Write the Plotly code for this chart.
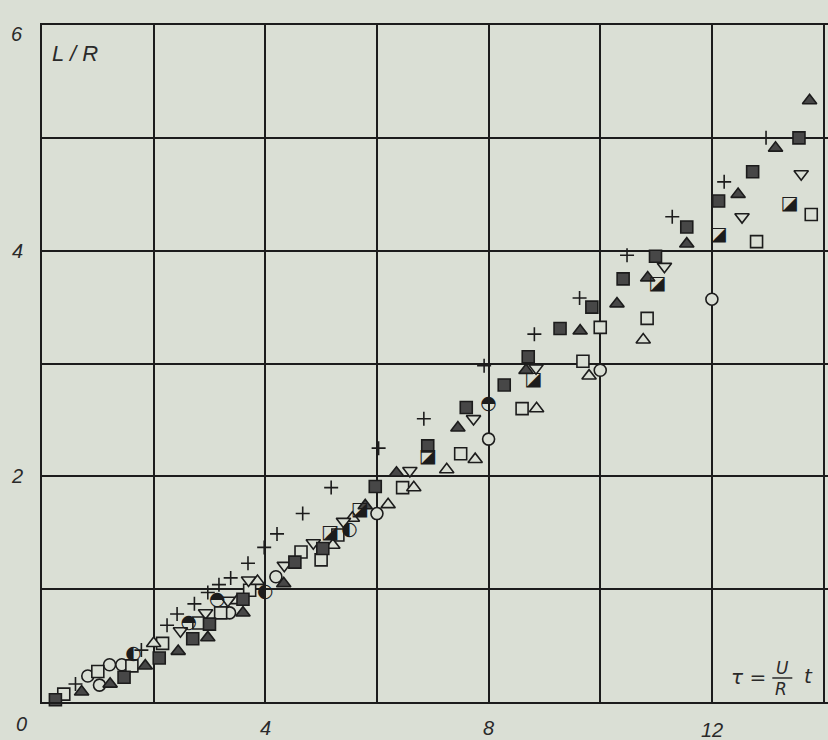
import plotly.graph_objects as go

BG = "#dadfd5"
INK = "#1c1c1c"
FILL = "#474747"

# ---- data ----
plus_x = [0.60, 1.78, 2.24, 2.42, 2.73, 2.97, 3.17, 3.38, 3.69, 3.98, 4.21, 4.67, 5.18, 6.03, 6.84, 7.92, 8.82, 9.63, 10.48, 11.29, 12.22, 12.97]
plus_y = [0.16, 0.46, 0.68, 0.78, 0.87, 0.97, 1.04, 1.10, 1.23, 1.37, 1.49, 1.67, 1.90, 2.25, 2.51, 2.98, 3.26, 3.58, 3.96, 4.30, 4.61, 5.00]

sqf_x = [0.24, 1.47, 2.10, 2.70, 3.00, 3.60, 4.53, 5.03, 5.97, 6.91, 7.60, 8.28, 8.71, 9.28, 9.85, 10.41, 10.99, 11.55, 12.12, 12.73, 13.56]
sqf_y = [0.02, 0.22, 0.39, 0.56, 0.69, 0.91, 1.24, 1.36, 1.91, 2.27, 2.61, 2.81, 3.06, 3.31, 3.50, 3.75, 3.95, 4.21, 4.44, 4.70, 5.00]

trif_x = [0.71, 1.22, 1.85, 2.44, 2.97, 3.60, 4.33, 5.79, 6.35, 7.45, 8.67, 9.64, 10.30, 10.85, 11.55, 12.47, 13.14, 13.75]
trif_y = [0.09, 0.16, 0.32, 0.45, 0.57, 0.79, 1.05, 1.74, 2.03, 2.43, 2.94, 3.29, 3.53, 3.76, 4.06, 4.50, 4.91, 5.33]

circ_x = [0.82, 1.03, 1.21, 1.43, 3.36, 4.19, 6.00, 8.00, 10.00, 12.00]
circ_y = [0.23, 0.15, 0.33, 0.33, 0.79, 1.11, 1.67, 2.33, 2.94, 3.57]

circ_top_x = [2.63, 3.14, 8.00]
circ_top_y = [0.70, 0.90, 2.64]

circ_left_x = [1.64, 4.00, 5.51]
circ_left_y = [0.42, 0.97, 1.52]

sqo_x = [0.39, 1.00, 1.61, 2.16, 2.81, 3.20, 3.72, 4.64, 5.00, 5.30, 6.46, 7.50, 8.60, 9.69, 10.00, 10.84, 12.80, 13.78]
sqo_y = [0.07, 0.27, 0.32, 0.52, 0.70, 0.79, 0.99, 1.33, 1.26, 1.48, 1.90, 2.20, 2.60, 3.02, 3.32, 3.40, 4.08, 4.32]

trio_x = [2.00, 3.50, 3.86, 5.21, 5.56, 6.20, 6.66, 7.25, 7.76, 8.86, 9.80, 10.77]
trio_y = [0.52, 0.90, 1.07, 1.39, 1.63, 1.75, 1.90, 2.06, 2.15, 2.60, 2.89, 3.21]

trid_x = [2.48, 2.93, 3.33, 3.70, 4.34, 4.86, 5.40, 6.59, 7.73, 8.85, 11.15, 12.54, 13.60]
trid_y = [0.63, 0.79, 0.90, 1.08, 1.21, 1.41, 1.60, 2.05, 2.51, 2.96, 3.86, 4.30, 4.68]

sqh_x = [5.16, 5.69, 6.91, 8.80, 11.02, 12.12, 13.39]
sqh_y = [1.50, 1.70, 2.17, 2.85, 3.70, 4.14, 4.41]

x_grid = [0, 2, 4, 6, 8, 10, 12, 14]
y_grid = [0, 1, 2, 3, 4, 5, 6]
x_tick_vals = [4, 8, 12]
x_tick_text = ["4", "8", "12"]
y_tick_vals = [2, 4, 6]
y_tick_text = ["2", "4", "6"]

fig = go.Figure()


def add_markers(x, y, symbol, fill, size, lw=1.6):
    fig.add_trace(go.Scatter(
        x=x, y=y, mode="markers", showlegend=False, cliponaxis=False,
        marker=dict(symbol=symbol, size=size, color=fill,
                    line=dict(color=INK, width=lw)),
    ))


def add_glyphs(x, y, glyph, size):
    fig.add_trace(go.Scatter(
        x=x, y=y, mode="text", showlegend=False, cliponaxis=False,
        text=[glyph] * len(x), textposition="middle center",
        textfont=dict(family="DejaVu Sans", size=size, color=INK),
    ))


add_markers(circ_x, circ_y, "circle", BG, 12)
add_markers(sqo_x, sqo_y, "square", BG, 12)
add_markers(trio_x, trio_y, "triangle-up", BG, 12.5)
add_markers(trid_x, trid_y, "triangle-down", BG, 12.5)
add_markers(sqf_x, sqf_y, "square", FILL, 12)
add_markers(trif_x, trif_y, "triangle-up", FILL, 12.5)
add_glyphs(sqh_x, sqh_y, "◪", 19)
add_glyphs(circ_top_x, circ_top_y, "◓", 19)
add_glyphs(circ_left_x, circ_left_y, "◐", 19)
add_markers(plus_x, plus_y, "cross-thin", INK, 10, lw=1.6)

font_it = dict(family="Liberation Sans", size=20, color="#2a2a2a")

ann = []
for v, t in zip(x_tick_vals, x_tick_text):
    ann.append(dict(x=v, y=0, xref="x", yref="y", text="<i>%s</i>" % t,
                    showarrow=False, xanchor="center", yanchor="middle",
                    yshift=-26 if t != "12" else -28, font=font_it))
for v, t in zip(y_tick_vals, y_tick_text):
    ann.append(dict(x=0, y=v, xref="x", yref="y", text="<i>%s</i>" % t,
                    showarrow=False, xanchor="center", yanchor="middle",
                    xshift=-25, yshift=-9 if v == 6 else 0, font=font_it))
ann.append(dict(x=0, y=0, xref="x", yref="y", text="<i>0</i>", showarrow=False,
                xanchor="center", yanchor="middle", xshift=-21, yshift=-22,
                font=font_it))
ann.append(dict(x=0.14, y=5.75, xref="x", yref="y", text="<i>L / R</i>",
                showarrow=False, xanchor="left", yanchor="middle",
                font=dict(family="Liberation Sans", size=22, color="#2a2a2a")))


def px2x(px):
    return (px - 42) / 55.8


def py2y(py):
    return (702 - py) / 112.8


lab_font = dict(family="DejaVu Sans", size=20, color="#2a2a2a")
ann.append(dict(x=px2x(748), y=py2y(677), text="<i>τ</i> =", showarrow=False,
                xanchor="center", yanchor="middle", font=lab_font))
ann.append(dict(x=px2x(782), y=py2y(668), text="<i>U</i>", showarrow=False,
                xanchor="center", yanchor="middle", font=dict(lab_font, size=17)))
ann.append(dict(x=px2x(781), y=py2y(689), text="<i>R</i>", showarrow=False,
                xanchor="center", yanchor="middle", font=dict(lab_font, size=17)))
ann.append(dict(x=px2x(808), y=py2y(676), text="<i>t</i>", showarrow=False,
                xanchor="center", yanchor="middle", font=lab_font))

fig.add_shape(type="line", xref="x", yref="y",
              x0=px2x(772), x1=px2x(792), y0=py2y(678), y1=py2y(678),
              line=dict(color="#2a2a2a", width=1.5))

fig.update_layout(
    width=828, height=740,
    margin=dict(l=42, r=0, t=25, b=38),
    paper_bgcolor=BG, plot_bgcolor=BG,
    annotations=ann,
    xaxis=dict(range=[0, 14.08], tickmode="array", tickvals=x_grid,
               showticklabels=False, ticks="", showgrid=True,
               gridcolor=INK, gridwidth=2, zeroline=False,
               showline=True, linecolor=INK, linewidth=2, mirror=True),
    yaxis=dict(range=[0, 6], tickmode="array", tickvals=y_grid,
               showticklabels=False, ticks="", showgrid=True,
               gridcolor=INK, gridwidth=2, zeroline=False,
               showline=True, linecolor=INK, linewidth=2),
)

fig.write_html("out.html")
